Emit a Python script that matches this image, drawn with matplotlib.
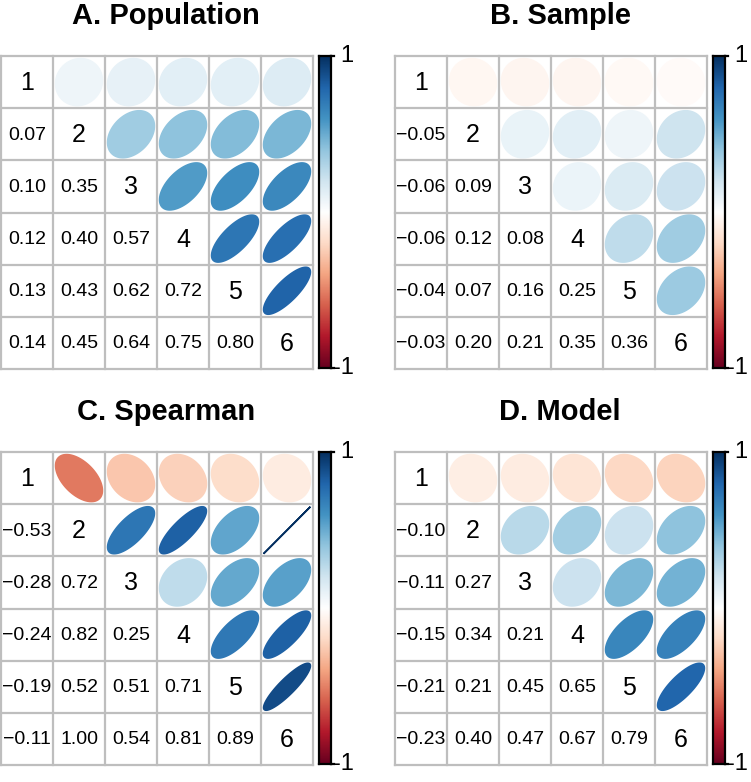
import numpy as np
import matplotlib
matplotlib.use("Agg")
import matplotlib.pyplot as plt
from matplotlib.colors import LinearSegmentedColormap, Normalize
from matplotlib.patches import Polygon

plt.rcParams['font.family'] = ['Liberation Sans', 'DejaVu Sans']

# lower-triangle correlations, row by row (row 2 .. row 6)
population = [[0.07],
              [0.10, 0.35],
              [0.12, 0.40, 0.57],
              [0.13, 0.43, 0.62, 0.72],
              [0.14, 0.45, 0.64, 0.75, 0.80]]
sample = [[-0.05],
          [-0.06, 0.09],
          [-0.06, 0.12, 0.08],
          [-0.04, 0.07, 0.16, 0.25],
          [-0.03, 0.20, 0.21, 0.35, 0.36]]
spearman = [[-0.53],
            [-0.28, 0.72],
            [-0.24, 0.82, 0.25],
            [-0.19, 0.52, 0.51, 0.71],
            [-0.11, 1.00, 0.54, 0.81, 0.89]]
model = [[-0.10],
         [-0.11, 0.27],
         [-0.15, 0.34, 0.21],
         [-0.21, 0.21, 0.45, 0.65],
         [-0.23, 0.40, 0.47, 0.67, 0.79]]
titles = ["A. Population", "B. Sample", "C. Spearman", "D. Model"]
var_labels = ["1", "2", "3", "4", "5", "6"]

W, H = 751, 782
cmap = LinearSegmentedColormap.from_list(
    "rdbu", ["#67001F", "#B2182B", "#D6604D", "#F4A582", "#FDDBC7", "#FFFFFF",
             "#D1E5F0", "#92C5DE", "#4393C3", "#2166AC", "#053061"], N=200)
norm = Normalize(-1, 1)


def box(x0, y0, x1, y1):
    return [x0 / W, 1 - y1 / H, (x1 - x0) / W, (y1 - y0) / H]


def full_matrix(lower):
    n = len(lower) + 1
    m = np.eye(n)
    for i, row in enumerate(lower):
        for j, v in enumerate(row):
            m[i + 1, j] = v
            m[j, i + 1] = v
    return m


def fmt(v):
    return ("%.2f" % v).replace("-", "\u2212")


def draw_panel(fig, lower, title, gx, gy):
    m = full_matrix(lower)
    n = m.shape[0]
    ax = fig.add_axes(box(gx, gy, gx + 312, gy + 313))
    ax.set_xlim(0.5, n + 0.5)
    ax.set_ylim(n + 0.5, 0.5)
    ax.axis("off")
    t = np.linspace(0, 2 * np.pi, 99)
    for i in range(n):
        for j in range(n):
            x, y = j + 1, i + 1
            if i == j:
                ax.text(x, y + 0.02, var_labels[i], ha="center", va="center", fontsize=18)
            elif i > j:
                ax.text(x, y + 0.02, fmt(m[i, j]), ha="center", va="center", fontsize=14)
            else:
                a = np.arccos(np.clip(m[i, j], -1, 1))
                ex = x + 0.9 * np.cos(t + a / 2) / 2
                ey = y - 0.9 * np.cos(t - a / 2) / 2
                col = cmap(norm(m[i, j]))
                ax.add_patch(Polygon(np.column_stack([ex, ey]), closed=True,
                                     facecolor=col, edgecolor=col, lw=1.2))
    for k in range(n + 1):
        ax.plot([0.5, n + 0.5], [k + 0.5, k + 0.5], color="#BEBEBE", lw=1.6,
                solid_capstyle="projecting", clip_on=False)
        ax.plot([k + 0.5, k + 0.5], [0.5, n + 0.5], color="#BEBEBE", lw=1.6,
                solid_capstyle="projecting", clip_on=False)

    # colour legend
    cax = fig.add_axes(box(gx + 318, gy, gx + 330, gy + 312))
    grad = np.linspace(-1, 1, 200).reshape(-1, 1)
    cax.imshow(grad, cmap=cmap, norm=norm, aspect="auto", origin="lower",
               extent=[0, 1, -1, 1])
    cax.set_xlim(0, 1)
    cax.set_ylim(-1, 1)
    cax.set_xticks([])
    cax.set_yticks([])
    for s in cax.spines.values():
        s.set_color("black")
        s.set_linewidth(1.6)
    cax.plot([1, 1.25], [1, 1], color="black", lw=1.6, clip_on=False)
    cax.plot([1, 1.25], [-1, -1], color="black", lw=1.6, clip_on=False)
    cax.text(1.75, 1, "1", ha="left", va="center", fontsize=17,
             transform=cax.transData, clip_on=False)
    cax.text(1.15, -1, "-1", ha="left", va="center", fontsize=17,
             transform=cax.transData, clip_on=False)

    fig.text((gx + 165) / W, 1 - (gy - 40) / H, title, ha="center", va="center",
             fontsize=21, fontweight="bold")


fig = plt.figure(figsize=(W / 100, H / 100), dpi=100)
draw_panel(fig, population, titles[0], 1, 56)
draw_panel(fig, sample, titles[1], 395, 56)
draw_panel(fig, spearman, titles[2], 1, 452)
draw_panel(fig, model, titles[3], 395, 452)
fig.savefig("out.png", dpi=100)
